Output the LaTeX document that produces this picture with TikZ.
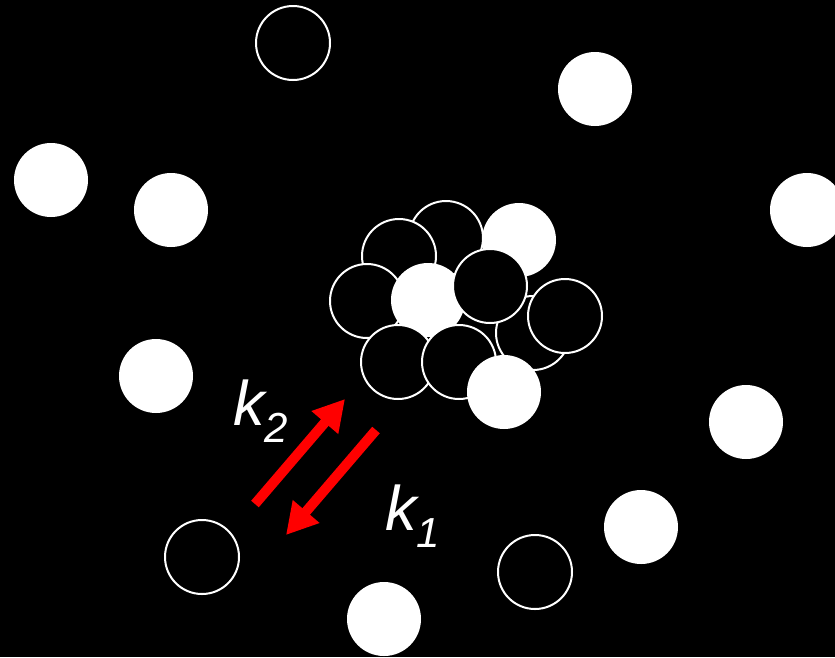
\documentclass[tikz,border=0pt]{standalone}
\usepackage{fontspec}
\setmainfont{Liberation Sans}
\usepackage{tikz}
\usetikzlibrary{arrows.meta}
\usetikzlibrary{positioning}

\tikzset{
    particle/.style={circle, fill=white, minimum size=74pt, inner sep=0pt},
    hole/.style={circle, draw=white, line width=2pt, fill=black, minimum size=74pt, inner sep=0pt},
    rate/.style={red, line width=10pt, -{Triangle[length=31pt,width=33pt]}},
    ratelabel/.style={white, anchor=base west, inner sep=0pt, font=\fontsize{63}{63}\selectfont\itshape}
}
\newcommand{\lowsub}[1]{\raisebox{-17pt}{\fontsize{42}{42}\selectfont #1}}

\begin{document}
\begin{tikzpicture}[x=1pt, y=-1pt]
    % 1. Black background, also the bounding box
    \fill[black] (0,0) rectangle (835,657);
    \useasboundingbox (0,0) rectangle (835,657);

    % 2. Free particles and holes around the cluster
    \node[hole] (h1) at (293,43) {};
    \node[particle] (p1) at (595,89) {};
    \node[particle] (p2) at (51,180) {};
    \node[particle] (p3) at (171,210) {};
    \node[particle] (p4) at (807,210) {};
    \node[particle] (p5) at (156,376) {};
    \node[particle] (p6) at (746,422) {};
    \node[particle] (p7) at (641,527) {};
    \node[hole] (h2) at (202,557) {};
    \node[hole] (h3) at (535,572) {};
    \node[particle] (p8) at (384,619) {};

    % 3. The cluster, back to front
    \node[hole] (c1) at (446,238) {};
    \node[hole] (c2) at (399,256) {};
    \node[particle] (c3) at (519,240) {};
    \node[hole] (c4) at (367,301) {};
    \node[particle] (c5) at (428,300) {};
    \node[hole] (c6) at (533,333) {};
    \node[hole] (c7) at (490,286) {};
    \node[hole] (c8) at (565,316) {};
    \node[hole] (c9) at (398,362) {};
    \node[hole] (c10) at (459,362) {};
    \node[particle] (c11) at (504,392) {};

    % 4. Rate arrows between hole and cluster
    \coordinate (upfrom) at (255,504);
    \coordinate (upto) at (345,399);
    \coordinate (downfrom) at (376,430);
    \coordinate (downto) at (286,535);
    \draw[rate] (upfrom) -- (upto);
    \draw[rate] (downfrom) -- (downto);

    % 5. Rate labels
    \node[ratelabel] (ktwo) at (233,425) {k\lowsub{2}};
    \node[ratelabel] (kone) at (385,530) {k\lowsub{1}};

\end{tikzpicture}
\end{document}
